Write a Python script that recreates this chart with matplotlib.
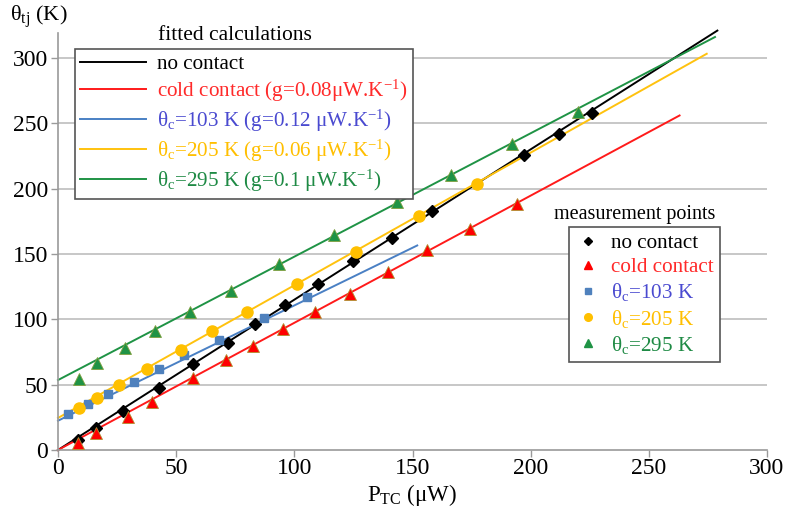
import numpy as np
import matplotlib
matplotlib.use("Agg")
import matplotlib.pyplot as plt
from matplotlib.lines import Line2D

plt.rcParams['font.family'] = ['Liberation Serif', 'DejaVu Serif']
plt.rcParams['mathtext.fontset'] = 'custom'
plt.rcParams['mathtext.rm'] = 'Liberation Serif'
plt.rcParams['mathtext.it'] = 'Liberation Serif:italic'

# ---- data: fitted lines (end x, intercept, slope) ----
fit_names = ["no contact", "cold contact", "theta103", "theta205", "theta295"]
fit_x_end = [279, 263, 152, 274.5, 278]
fit_intercept = [0.0, 0.0, 22.4, 24.5, 53.5]
fit_slope = [1.150, 0.973, 0.882, 1.015, 0.944]

# ---- data: measurement points ----
nc_x = [8.5, 16, 27.4, 42.7, 57.3, 71.8, 83.4, 96, 110.2, 125, 141.5, 158.4, 197.3, 212, 226.1]
nc_y = [7.6, 17, 30, 47.1, 65.5, 81.5, 96.3, 110.8, 127.3, 144.4, 162.2, 182.6, 225.4, 242, 258]

cc_x = [8.6, 16, 29.8, 39.6, 57.3, 71.1, 82.4, 95.4, 108.8, 123.6, 139.5, 156, 174.4, 194.1]
cc_y = [5.1, 12.7, 25, 36.9, 54.8, 68.8, 79.7, 92.4, 105.7, 119.7, 136.2, 153.3, 169.4, 188.5]

t103_x = [4.4, 12.8, 21.3, 32.2, 42.7, 53.5, 68.1, 87.3, 105.2]
t103_y = [27.3, 35, 42.8, 52.2, 61.6, 72.6, 84, 100.6, 117]

t205_x = [8.9, 16.4, 25.8, 37.5, 51.9, 65.3, 80.1, 101.3, 126, 152.9, 177.2]
t205_y = [31.8, 39.5, 49.7, 61.9, 76.4, 90.9, 105.7, 127.3, 151.5, 178.8, 203.2]

t295_x = [8.9, 16.4, 28.4, 41, 55.9, 73.2, 93.5, 116.8, 143.3, 166.3, 192.3, 220.2]
t295_y = [54, 66.2, 77.7, 90.9, 105.7, 121.7, 142.6, 164.2, 189.7, 210.1, 234.3, 258.4]

x_ticks = [0, 50, 100, 150, 200, 250, 300]
y_ticks = [0, 50, 100, 150, 200, 250, 300]

fit_labels = ["no contact",
              "cold contact (g=0.08μW.K$^{{-}1}$)",
              "θ$_{\\rm c}$=103 K (g=0.12 μW.K$^{{-}1}$)",
              "θ$_{\\rm c}$=205 K (g=0.06 μW.K$^{{-}1}$)",
              "θ$_{\\rm c}$=295 K (g=0.1 μW.K$^{{-}1}$)"]
meas_labels = ["no contact", "cold contact", "θ$_{\\rm c}$=103 K",
               "θ$_{\\rm c}$=205 K", "θ$_{\\rm c}$=295 K"]

line_colors = ["#000000", "#ff1a1a", "#4a80c4", "#ffc20e", "#1f9345"]
text_colors = ["#000000", "#ff2a2a", "#4a4ad0", "#ffbf00", "#1e8a44"]
marker_colors = ["#000000", "#ff0000", "#4f81bd", "#ffc000", "#1f9345"]

fig = plt.figure(figsize=(7.87, 5.08), dpi=100)
ax = fig.add_axes([58/787, 1-450/508, (767-58)/787, (450-33)/508])
ax.set_xlim(0, 300)
ax.set_ylim(0, 319)

for y in y_ticks[1:]:
    ax.axhline(y, color="#bdbdbd", lw=1.2, zorder=0)

line_handles = []
for i in range(5):
    xs = np.array([0.0, fit_x_end[i]])
    ys = fit_intercept[i] + fit_slope[i] * xs
    h, = ax.plot(xs, ys, color=line_colors[i], lw=1.4, zorder=2, clip_on=False)
    line_handles.append(h)

ax.plot(nc_x, nc_y, ls='none', marker='D', ms=6, color=marker_colors[0], zorder=3)
ax.plot(cc_x, cc_y, ls='none', marker='^', ms=8, color=marker_colors[1],
        mec="#b09030", mew=0.6, zorder=3)
ax.plot(t103_x, t103_y, ls='none', marker='s', ms=6, color=marker_colors[2], zorder=3)
ax.plot(t205_x, t205_y, ls='none', marker='o', ms=8, color=marker_colors[3], zorder=3)
ax.plot(t295_x, t295_y, ls='none', marker='^', ms=8, color=marker_colors[4],
        mec="#80a040", mew=0.6, zorder=3)

ax.set_xticks(x_ticks)
ax.set_yticks(y_ticks)
ax.tick_params(labelsize=17, labelcolor="#000000", length=5, width=1,
               direction='out', color="#9a9a9a")
ax.tick_params(axis='x', pad=1)
ax.tick_params(axis='y', pad=2)
for s in ["top", "right"]:
    ax.spines[s].set_visible(False)
for s in ["left", "bottom"]:
    ax.spines[s].set_color("#9a9a9a")
    ax.spines[s].set_linewidth(1.2)

fig.text(412/787, 1-495/508, "P$_{\\rm TC}$ (μW)", fontsize=16.5, ha='center', va='center')
fig.text(10/787, 1-17/508, "θ$_{\\rm tj}$ (K)", fontsize=16, va='center', ha='left')

leg1 = fig.legend(line_handles, fit_labels, loc='upper left',
                  bbox_to_anchor=(75/787, 1-49/508), fontsize=15.2,
                  frameon=True, fancybox=False, framealpha=1, edgecolor="#555555",
                  handlelength=3.1, handletextpad=0.55, labelspacing=0.18,
                  borderpad=0.25, borderaxespad=0)
leg1.get_frame().set_linewidth(1.2)
for t, c in zip(leg1.get_texts(), text_colors):
    t.set_color(c)
fig.text(235/787, 1-35/508, "fitted calculations", fontsize=15.5, ha='center', va='center')

mhl = [Line2D([], [], ls='none', marker=m, ms=ms, color=c)
       for m, ms, c in zip(['D', '^', 's', 'o', '^'], [4.5, 5.5, 4.5, 5.5, 5.5], marker_colors)]
leg2 = fig.legend(mhl, meas_labels, loc='upper left',
                  bbox_to_anchor=(569/787, 1-227/508), fontsize=15.2,
                  frameon=True, fancybox=False, framealpha=1, edgecolor="#555555",
                  handlelength=1.2, handletextpad=0.5, labelspacing=0.2,
                  borderpad=0.3, borderaxespad=0)
leg2.get_frame().set_linewidth(1.2)
for t, c in zip(leg2.get_texts(), text_colors):
    t.set_color(c)
fig.text(635/787, 1-215/508, "measurement points", fontsize=14.5, ha='center', va='center')

fig.savefig("out.png", dpi=100)
